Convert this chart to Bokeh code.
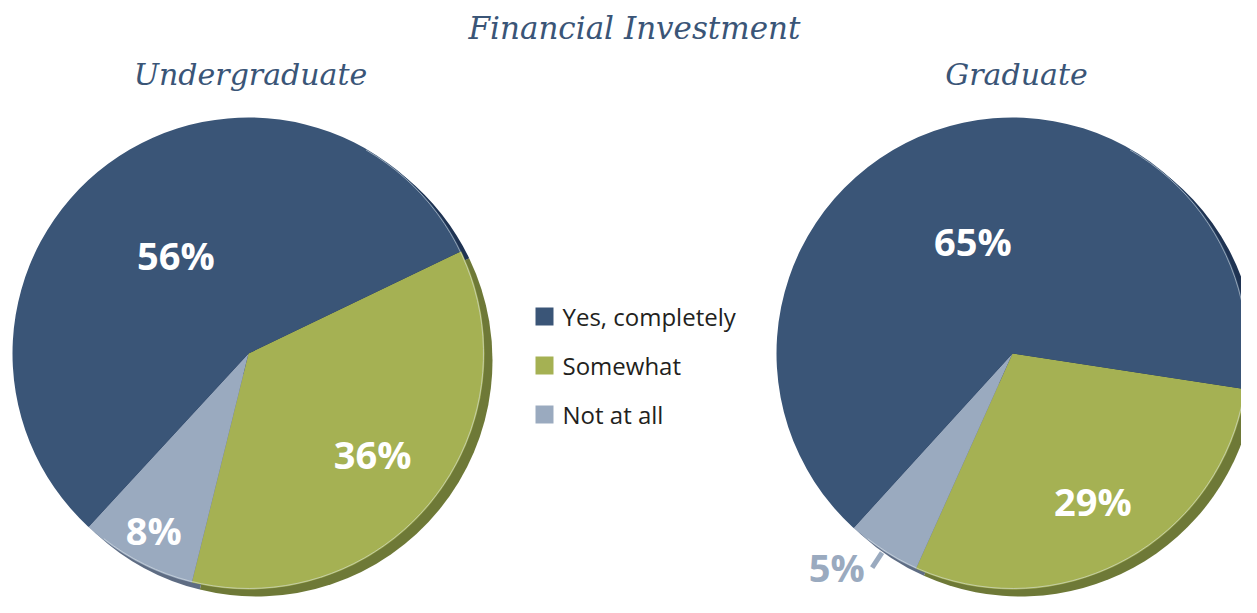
import math
from bokeh.plotting import figure
from bokeh.models import Range1d
from bokeh.core.properties import value
from bokeh.embed import file_html
from bokeh.resources import INLINE

# ---------------- data ----------------
title_text = "Financial Investment"
groups = ["Undergraduate", "Graduate"]
categories = ["Yes, completely", "Somewhat", "Not at all"]
undergrad_pct = [56, 36, 8]
grad_pct = [65, 29, 5]

# ---------------- styles / layout ----------------
face_colors = ["#3a5577", "#a5b153", "#9aaabf"]
shadow_colors = ["#1f3352", "#6e7937", "#5e6c83"]
title_color = "#3a5577"
W, H = 1241, 597

def Y(py):
    return H - py

pie_centers = [(248, Y(353)), (1012, Y(353))]
pie_radius = 236
start_deg = [25.7, -8.7]
draw_order = [1, 2, 0]                     # clockwise from start: Somewhat, Not at all, Yes
label_dist = [[122, 160, 200], [119, 168, 255]]
label_dx = [[0, 0, 0], [0, 0, -36]]
label_colors = [["white", "white", "white"], ["white", "white", "#9aaabf"]]
leader = (238, 256)
shadow_off = (8, -7)

p = figure(width=W, height=H, x_range=Range1d(0, W), y_range=Range1d(0, H),
           output_backend="svg", toolbar_location=None, min_border=0)
p.axis.visible = False
p.grid.visible = False
p.outline_line_color = None
p.background_fill_color = "white"
p.border_fill_color = "white"

series = [undergrad_pct, grad_pct]

for gi, vals in enumerate(series):
    cx, cy = pie_centers[gi]
    total = float(sum(vals))
    starts, ends, mids = {}, {}, {}
    a = math.radians(start_deg[gi])
    for idx in draw_order:
        ang = vals[idx] / total * 2 * math.pi
        starts[idx] = a
        ends[idx] = a - ang
        mids[idx] = a - ang / 2
        a -= ang
    order = draw_order
    # shadow
    p.wedge(x=[cx + shadow_off[0]] * 3, y=[cy + shadow_off[1]] * 3, radius=pie_radius,
            start_angle=[starts[i] for i in order], end_angle=[ends[i] for i in order],
            direction="clock", fill_color=[shadow_colors[i] for i in order], line_color=None)
    # faces
    p.wedge(x=[cx] * 3, y=[cy] * 3, radius=pie_radius,
            start_angle=[starts[i] for i in order], end_angle=[ends[i] for i in order],
            direction="clock", fill_color=[face_colors[i] for i in order], line_color=None)
    # bevel highlight
    p.arc(x=cx, y=cy, radius=pie_radius - 1, start_angle=math.radians(60),
          end_angle=math.radians(-128), direction="clock",
          line_color="#dfe6ea", line_alpha=0.55, line_width=1)
    # labels
    lx, ly, lt, lc = [], [], [], []
    for i in range(3):
        d = label_dist[gi][i]
        m = mids[i]
        lx.append(cx + d * math.cos(m) + label_dx[gi][i])
        ly.append(cy + d * math.sin(m))
        lt.append(f"{vals[i]}%")
        lc.append(label_colors[gi][i])
        if d > pie_radius:
            p.line(x=[cx + leader[0] * math.cos(m), cx + leader[1] * math.cos(m)],
                   y=[cy + leader[0] * math.sin(m), cy + leader[1] * math.sin(m)],
                   line_color=label_colors[gi][i], line_width=5)
    p.text(x=lx, y=ly, text=lt, text_color=lc, text_font=value("Open Sans"),
           text_font_style="bold", text_font_size="38px",
           text_align="center", text_baseline="middle")

# titles
p.text(x=[634], y=[Y(27)], text=[title_text], text_color=title_color,
       text_font=value("DejaVu Serif"), text_font_style="italic", text_font_size="31px",
       text_align="center", text_baseline="middle")
p.text(x=[250, 1016], y=[Y(74), Y(74)], text=groups, text_color=title_color,
       text_font=value("DejaVu Serif"), text_font_style="italic", text_font_size="30px",
       text_align="center", text_baseline="middle")

# legend
leg_y = [Y(316), Y(365), Y(414)]
p.rect(x=[544] * 3, y=leg_y, width=18, height=18, fill_color=face_colors, line_color=None)
p.text(x=[562] * 3, y=leg_y, text=categories, text_color="#231f20",
       text_font=value("Open Sans"), text_font_size="24px",
       text_align="left", text_baseline="middle")

open("out.html", "w").write(file_html(p, INLINE))
